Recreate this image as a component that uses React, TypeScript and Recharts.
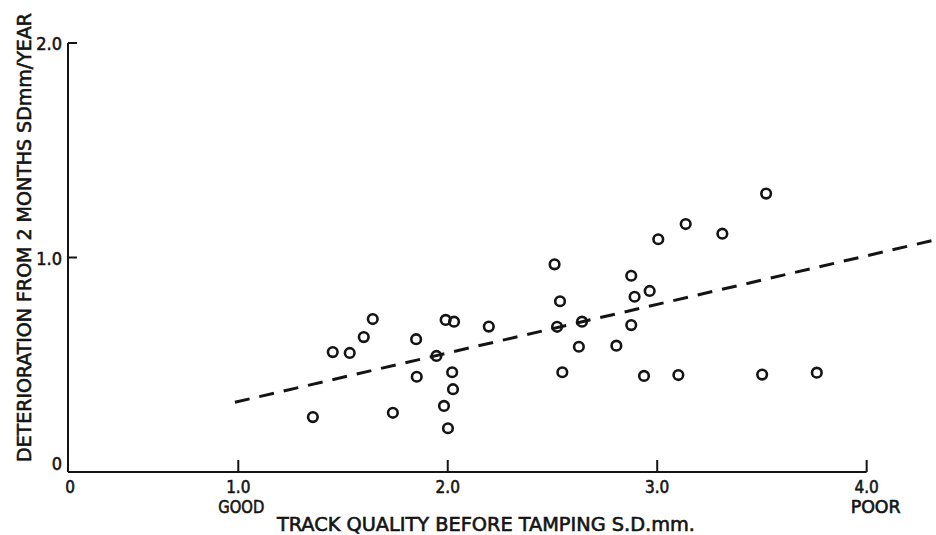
import React from 'react';
import { ScatterChart, Scatter, XAxis, YAxis, ReferenceLine, Label } from 'recharts';

// Track quality before tamping (S.D. mm)
const trackQuality = [
  1.356, 1.451, 1.532, 1.599, 1.642, 1.738, 1.849, 1.852, 1.946, 1.982,
  1.99, 2.001, 2.021, 2.025, 2.03, 2.196, 2.51, 2.522, 2.536, 2.547,
  2.626, 2.641, 2.805, 2.876, 2.876, 2.892, 2.937, 2.964, 3.005, 3.101,
  3.136, 3.311, 3.501, 3.52, 3.762,
];
// Deterioration from 2 months (SD mm / year)
const deterioration = [
  0.256, 0.559, 0.555, 0.629, 0.713, 0.276, 0.619, 0.444, 0.541, 0.308,
  0.709, 0.204, 0.465, 0.386, 0.701, 0.678, 0.968, 0.677, 0.796, 0.465,
  0.584, 0.701, 0.589, 0.915, 0.685, 0.817, 0.448, 0.844, 1.085, 0.452,
  1.156, 1.111, 0.454, 1.298, 0.463,
];

const xDomain = [0.187, 4.331];
const xTicks = [0.187, 1, 2, 3, 4];
const xTickLabels = ['0', '1.0', '2.0', '3.0', '4.0'];
const xTickSubLabels = ['', 'GOOD', '', '', 'POOR'];
const yDomain = [0, 2];
const yTicks = [0, 1, 2];
const yTickLabels = ['0', '1.0', '2.0'];
const fitStart = { x: 0.984, y: 0.325 };
const fitEnd = { x: 4.331, y: 1.083 };
const axisEnd = 4;

const xTitle = 'TRACK QUALITY BEFORE TAMPING S.D.mm.';
const yTitle = 'DETERIORATION FROM 2 MONTHS SDmm/YEAR';

const data = trackQuality.map((x, i) => ({ x, y: deterioration[i] }));

const FONT = "'Liberation Sans Narrow', 'DejaVu Sans Condensed', 'Liberation Sans', Arial, sans-serif";
const INK = '#141414';
const TXT = { fontFamily: FONT, fill: INK, stroke: INK, strokeWidth: 0.55 };

const nearestIndex = (arr: number[], v: number) => {
  let best = 0;
  arr.forEach((a, i) => {
    if (Math.abs(a - v) < Math.abs(arr[best] - v)) best = i;
  });
  return best;
};

const XTick = (props: any) => {
  const { x, y, payload } = props;
  const i = nearestIndex(xTicks, payload.value);
  const sub = xTickSubLabels[i];
  const subDx = i === 4 ? 9 : 3;
  return (
    <g>
      {i > 0 && <line x1={x} y1={y} x2={x} y2={y - 12} stroke={INK} strokeWidth={2} />}
      <text x={i === 0 ? x + 2 : x} y={y + 21} textAnchor="middle" fontSize={17} {...TXT}>
        {xTickLabels[i]}
      </text>
      {sub && (
        <text
          x={x + subDx}
          y={y + 41}
          textAnchor="middle"
          fontSize={17}
          {...TXT}
          textLength={i === 4 ? 50 : 46}
          lengthAdjust="spacingAndGlyphs"
        >
          {sub}
        </text>
      )}
    </g>
  );
};

const YTick = (props: any) => {
  const { x, y, payload } = props;
  const i = nearestIndex(yTicks, payload.value);
  return (
    <g>
      {i > 0 && <line x1={x} y1={y} x2={x + 9} y2={y} stroke={INK} strokeWidth={2} />}
      <text x={x - 6} y={(i === 0 ? y - 9 : y) + 7} textAnchor="end" fontSize={18} {...TXT}>
        {yTickLabels[i]}
      </text>
    </g>
  );
};

const RingDot = (props: any) => {
  const { cx, cy } = props;
  if (cx == null || cy == null) return null;
  return <circle cx={cx} cy={cy} r={4.8} fill="none" stroke={INK} strokeWidth={2.6} />;
};

export default function App() {
  return (
    <div style={{ position: 'absolute', left: 0, top: 0, width: 936, height: 535, background: '#fff' }}>
      <ScatterChart width={936} height={535} margin={{ top: 43, right: 0, bottom: 0, left: 0 }}>
        <XAxis
          type="number"
          dataKey="x"
          domain={xDomain}
          ticks={xTicks}
          allowDataOverflow
          axisLine={false}
          tickLine={false}
          tickSize={0}
          tickMargin={0}
          height={63}
          interval={0}
          tick={<XTick />}
        >
          <Label
            content={(p: any) => {
              const vb = p.viewBox || { x: 68, y: 472 };
              return (
                <text
                  x={vb.x + 418}
                  y={vb.y + 59}
                  textAnchor="middle"
                  fontSize={19}
                  {...TXT}
                  textLength={418}
                  lengthAdjust="spacingAndGlyphs"
                >
                  {xTitle}
                </text>
              );
            }}
          />
        </XAxis>
        <YAxis
          type="number"
          dataKey="y"
          domain={yDomain}
          ticks={yTicks}
          allowDataOverflow
          axisLine={{ stroke: INK, strokeWidth: 2 }}
          tickLine={false}
          tickSize={0}
          tickMargin={0}
          width={68}
          interval={0}
          tick={<YTick />}
        >
          <Label
            content={(p: any) => {
              const vb = p.viewBox || { x: 0, y: 43, height: 429 };
              const cx = 24;
              const cy = vb.y + vb.height / 2 - 20;
              return (
                <text
                  transform={`translate(${cx},${cy}) rotate(-90)`}
                  x={0}
                  y={7}
                  textAnchor="middle"
                  fontSize={20}
                  {...TXT}
                  textLength={449}
                  lengthAdjust="spacingAndGlyphs"
                >
                  {yTitle}
                </text>
              );
            }}
          />
        </YAxis>
        <ReferenceLine
          segment={[{ x: xDomain[0], y: 0 }, { x: axisEnd, y: 0 }]}
          stroke={INK}
          strokeWidth={2}
          ifOverflow="visible"
        />
        <ReferenceLine
          segment={[fitStart, fitEnd]}
          stroke={INK}
          strokeWidth={3}
          strokeDasharray="15 10"
          ifOverflow="visible"
        />
        <Scatter data={data} isAnimationActive={false} shape={<RingDot />} />
      </ScatterChart>
    </div>
  );
}
